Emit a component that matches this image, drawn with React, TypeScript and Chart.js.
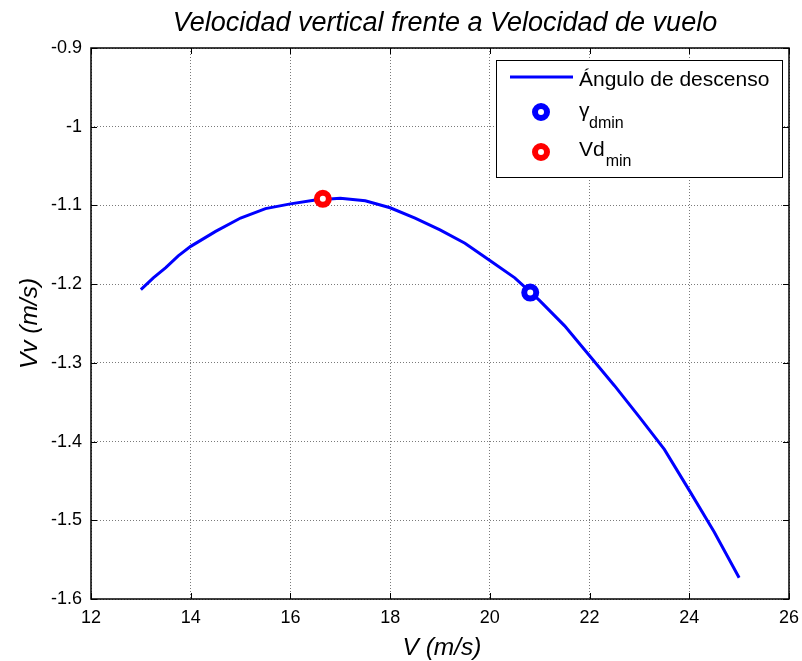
import React, { useEffect, useRef } from "react";
import { Chart, registerables } from "chart.js";
Chart.register(...registerables);

// Curve: V (m/s) vs Vv (m/s)
const curveV = [13.0, 13.25, 13.5, 13.75, 14.0, 14.5, 15.0, 15.5, 16.0, 16.5, 17.0, 17.5, 18.0, 18.5, 19.0, 19.5, 20.0, 20.5, 21.0, 21.5, 22.0, 22.5, 23.0, 23.5, 24.0, 24.5, 25.0];
const curveVv = [-1.207, -1.192, -1.179, -1.164, -1.152, -1.133, -1.116, -1.104, -1.098, -1.093, -1.091, -1.094, -1.103, -1.116, -1.131, -1.148, -1.170, -1.192, -1.221, -1.253, -1.291, -1.329, -1.369, -1.41, -1.462, -1.515, -1.573];

const gammaV = [20.81];
const gammaVv = [-1.2107];
const vdV = [16.65];
const vdVv = [-1.0916];

const xTicks = [12, 14, 16, 18, 20, 22, 24, 26];
const yTicks = [-1.6, -1.5, -1.4, -1.3, -1.2, -1.1, -1, -0.9];

const titleText = "Velocidad vertical frente a Velocidad de vuelo";
const xLabel = "V (m/s)";
const yLabel = "Vv (m/s)";
const legendLine = "Ángulo de descenso";

const FONT = "'Liberation Sans', Arial, sans-serif";

function toPts(xs: number[], ys: number[]) {
  return xs.map((x, i) => ({ x, y: ys[i] }));
}

const decorPlugin = {
  id: "decor",
  afterDraw(chart: any) {
    const ctx = chart.ctx as CanvasRenderingContext2D;
    const { left, right, top, bottom } = chart.chartArea;
    const xs = chart.scales.x;
    const ys = chart.scales.y;
    ctx.save();
    // box
    ctx.strokeStyle = "#000";
    ctx.lineWidth = 1.5;
    ctx.strokeRect(left, top, right - left, bottom - top);
    // inward ticks
    ctx.lineWidth = 1;
    const tl = 6;
    xTicks.forEach((t) => {
      const px = Math.round(xs.getPixelForValue(t)) + 0.5;
      ctx.beginPath();
      ctx.moveTo(px, bottom);
      ctx.lineTo(px, bottom - tl);
      ctx.moveTo(px, top);
      ctx.lineTo(px, top + tl);
      ctx.stroke();
    });
    yTicks.forEach((t) => {
      const py = Math.round(ys.getPixelForValue(t)) + 0.5;
      ctx.beginPath();
      ctx.moveTo(left, py);
      ctx.lineTo(left + tl, py);
      ctx.moveTo(right, py);
      ctx.lineTo(right - tl, py);
      ctx.stroke();
    });
    // title
    ctx.fillStyle = "#000";
    ctx.textAlign = "center";
    ctx.textBaseline = "middle";
    ctx.font = `italic 27px ${FONT}`;
    ctx.fillText(titleText, 445, 23);
    // x label
    ctx.font = `italic 24.5px ${FONT}`;
    ctx.fillText(xLabel, 442, 648);
    // y label
    ctx.save();
    ctx.translate(30, (top + bottom) / 2);
    ctx.rotate(-Math.PI / 2);
    ctx.fillText(yLabel, 0, 0);
    ctx.restore();

    // legend
    const lx = 496, ly = 60, lw = 286, lh = 117;
    ctx.fillStyle = "#fff";
    ctx.fillRect(lx, ly, lw, lh);
    ctx.strokeStyle = "#000";
    ctx.lineWidth = 1;
    ctx.strokeRect(lx + 0.5, ly + 0.5, lw, lh);
    const ds = chart.data.datasets;
    // line entry
    ctx.strokeStyle = ds[2].borderColor;
    ctx.lineWidth = 3;
    ctx.beginPath();
    ctx.moveTo(510, 77);
    ctx.lineTo(573, 77);
    ctx.stroke();
    ctx.fillStyle = "#000";
    ctx.textAlign = "left";
    ctx.textBaseline = "middle";
    ctx.font = `21px ${FONT}`;
    ctx.fillText(legendLine, 579, 80);
    // marker entries
    const drawMarker = (cx: number, cy: number, color: string) => {
      ctx.beginPath();
      ctx.arc(cx, cy, 6, 0, Math.PI * 2);
      ctx.fillStyle = "#fff";
      ctx.fill();
      ctx.strokeStyle = color;
      ctx.lineWidth = 6;
      ctx.stroke();
    };
    drawMarker(541, 112, ds[0].borderColor);
    drawMarker(541, 152, ds[1].borderColor);
    ctx.fillStyle = "#000";
    ctx.font = `21px ${FONT}`;
    ctx.fillText("\u03B3", 579, 111);
    ctx.font = `16px ${FONT}`;
    ctx.fillText("dmin", 589, 124);
    ctx.font = `21px ${FONT}`;
    ctx.fillText("Vd", 579, 150);
    const w = ctx.measureText("Vd").width;
    ctx.font = `16px ${FONT}`;
    ctx.fillText("min", 579 + w + 1, 162);
    ctx.restore();
  },
};

export default function App() {
  const ref = useRef<HTMLCanvasElement | null>(null);
  useEffect(() => {
    if (!ref.current) return;
    const chart = new Chart(ref.current, {
      type: "scatter",
      data: {
        datasets: [
          {
            label: "γdmin",
            data: toPts(gammaV, gammaVv),
            showLine: false,
            pointRadius: 6,
            pointBorderWidth: 6,
            borderColor: "#0000ff",
            backgroundColor: "#ffffff",
            order: 0,
          },
          {
            label: "Vdmin",
            data: toPts(vdV, vdVv),
            showLine: false,
            pointRadius: 6,
            pointBorderWidth: 6,
            borderColor: "#ff0000",
            backgroundColor: "#ffffff",
            order: 0,
          },
          {
            label: legendLine,
            data: toPts(curveV, curveVv),
            showLine: true,
            borderColor: "#0000ff",
            borderWidth: 3,
            pointRadius: 0,
            tension: 0,
            order: 1,
          },
        ],
      },
      options: {
        responsive: false,
        animation: false,
        events: [],
        layout: { autoPadding: false, padding: { left: 0, right: 13, top: 48, bottom: 0 } },
        plugins: { legend: { display: false }, tooltip: { enabled: false }, title: { display: false } },
        scales: {
          x: {
            type: "linear",
            min: 12,
            max: 26,
            afterBuildTicks: (s: any) => { s.ticks = xTicks.map((v) => ({ value: v })); },
            afterFit: (s: any) => { s.height = 62; s.paddingLeft = 0; s.paddingRight = 0; },
            ticks: { color: "#000", font: { family: FONT, size: 18 }, padding: 8, maxRotation: 0, callback: (v: any) => String(v) },
            grid: { color: "#7a7a7a", lineWidth: 1, drawTicks: false },
            border: { display: false, dash: [1, 2] },
          },
          y: {
            type: "linear",
            min: -1.6,
            max: -0.9,
            afterBuildTicks: (s: any) => { s.ticks = yTicks.map((v) => ({ value: v })); },
            afterFit: (s: any) => { s.width = 91; s.paddingTop = 0; s.paddingBottom = 0; },
            ticks: { color: "#000", font: { family: FONT, size: 18 }, padding: 9, callback: (v: any) => String(Number(Number(v).toFixed(1))) },
            grid: { color: "#7a7a7a", lineWidth: 1, drawTicks: false },
            border: { display: false, dash: [1, 2] },
          },
        },
      },
      plugins: [decorPlugin],
    } as any);
    return () => chart.destroy();
  }, []);
  return (
    <div style={{ position: "absolute", left: 0, top: 0, width: 802, height: 661, background: "#fff" }}>
      <canvas ref={ref} width={802} height={661} style={{ display: "block" }} />
    </div>
  );
}
